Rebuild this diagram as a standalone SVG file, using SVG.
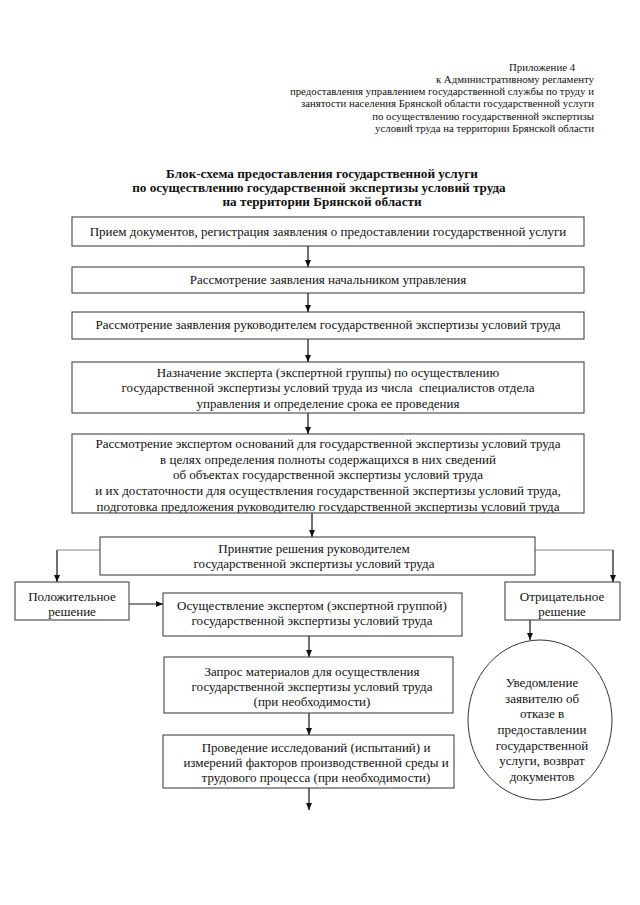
<svg xmlns="http://www.w3.org/2000/svg" width="640" height="905" viewBox="0 0 640 905">
<style>
text{font-family:"Liberation Serif","Times New Roman",serif;fill:#111}
.h{font-size:10.8px}
.t{font-size:13.2px;font-weight:bold;text-anchor:middle}
.b{font-size:13px;text-anchor:middle}
.box{fill:#fff;stroke:#333;stroke-width:1}
.c{stroke:#111;stroke-width:1.2;fill:none}
.g{stroke:#888;stroke-width:1.2;fill:none}
</style>
<defs>
<marker id="ar" markerWidth="8" markerHeight="8" refX="7" refY="4" orient="auto" markerUnits="userSpaceOnUse">
<path d="M0,1 L7,4 L0,7 Z" fill="#111"/>
</marker>
<clipPath id="cl5"><rect x="72" y="434" width="512" height="79"/></clipPath>
</defs>
<rect width="640" height="905" fill="#fff"/>
<g id="header">
<text class="h" x="509" y="71">Приложение 4</text>
<text class="h" x="594" y="83" text-anchor="end">к Административному регламенту</text>
<text class="h" x="594" y="95" text-anchor="end">предоставления управлением государственной службы по труду и</text>
<text class="h" x="594" y="107" text-anchor="end">занятости населения Брянской области государственной услуги</text>
<text class="h" x="594" y="120" text-anchor="end">по осуществлению государственной экспертизы</text>
<text class="h" x="594" y="132" text-anchor="end">условий труда на территории Брянской области</text>
</g>
<g id="title">
<text class="t" x="322" y="178">Блок-схема предоставления государственной услуги</text>
<text class="t" x="319" y="192">по осуществлению государственной экспертизы условий труда</text>
<text class="t" x="322" y="206">на территории Брянской области</text>
</g>
<g id="connectors">
<line class="c" x1="308" y1="246" x2="308" y2="267" marker-end="url(#ar)"/>
<line class="c" x1="308" y1="293" x2="308" y2="312" marker-end="url(#ar)"/>
<line class="c" x1="308" y1="339" x2="308" y2="362" marker-end="url(#ar)"/>
<line class="c" x1="308" y1="413" x2="308" y2="434" marker-end="url(#ar)"/>
<line class="c" x1="312" y1="513" x2="312" y2="537" marker-end="url(#ar)"/>
<polyline class="g" points="100,550 57,550"/>
<line class="c" x1="57" y1="550" x2="57" y2="582" marker-end="url(#ar)"/>
<polyline class="g" points="535,550 613,550"/>
<line class="c" x1="613" y1="550" x2="613" y2="582" marker-end="url(#ar)"/>
<line class="c" x1="129" y1="604" x2="163" y2="604" marker-end="url(#ar)"/>
<line class="c" x1="309" y1="636" x2="309" y2="657" marker-end="url(#ar)"/>
<line class="c" x1="309" y1="713" x2="309" y2="735" marker-end="url(#ar)"/>
<line class="c" x1="309" y1="788" x2="309" y2="810" marker-end="url(#ar)"/>
<line class="c" x1="530" y1="620" x2="530" y2="640" marker-end="url(#ar)"/>
</g>
<g id="n1">
<rect class="box" x="72" y="217" width="512" height="29"/>
<text class="b" x="328" y="236">Прием документов, регистрация заявления о предоставлении государственной услуги</text>
</g>
<g id="n2">
<rect class="box" x="72" y="267" width="512" height="26"/>
<text class="b" x="328" y="284">Рассмотрение заявления начальником управления</text>
</g>
<g id="n3">
<rect class="box" x="72" y="312" width="512" height="27"/>
<text class="b" x="328" y="329">Рассмотрение заявления руководителем государственной экспертизы условий труда</text>
</g>
<g id="n4">
<rect class="box" x="72" y="362" width="512" height="51"/>
<text class="b" x="328" y="377">Назначение эксперта (экспертной группы) по осуществлению</text>
<text class="b" x="328" y="392" xml:space="preserve">государственной экспертизы условий труда из числа  специалистов отдела</text>
<text class="b" x="328" y="408">управления и определение срока ее проведения</text>
</g>
<g id="n5">
<rect class="box" x="72" y="434" width="512" height="79"/>
<g clip-path="url(#cl5)">
<text class="b" x="328" y="448">Рассмотрение экспертом оснований для государственной экспертизы условий труда</text>
<text class="b" x="328" y="464">в целях определения полноты содержащихся в них сведений</text>
<text class="b" x="328" y="479">об объектах государственной экспертизы условий труда</text>
<text class="b" x="328" y="495">и их достаточности для осуществления государственной экспертизы условий труда,</text>
<text class="b" x="328" y="511">подготовка предложения руководителю государственной экспертизы условий труда</text>
</g>
</g>
<g id="n6">
<rect class="box" x="100" y="537" width="435" height="38"/>
<text class="b" x="314" y="553">Принятие решения руководителем</text>
<text class="b" x="314" y="568">государственной экспертизы условий труда</text>
</g>
<g id="n7">
<rect class="box" x="15" y="582" width="114" height="38"/>
<text class="b" x="72" y="601">Положительное</text>
<text class="b" x="72" y="616">решение</text>
</g>
<g id="n8">
<rect class="box" x="505" y="582" width="115" height="38"/>
<text class="b" x="562" y="601">Отрицательное</text>
<text class="b" x="562" y="616">решение</text>
</g>
<g id="n9">
<rect class="box" x="163" y="593" width="299" height="43"/>
<text class="b" x="312" y="610">Осуществление экспертом (экспертной группой)</text>
<text class="b" x="312" y="625">государственной экспертизы условий труда</text>
</g>
<g id="n10">
<rect class="box" x="164" y="657" width="289" height="56"/>
<text class="b" x="312" y="676">Запрос материалов для осуществления</text>
<text class="b" x="312" y="691">государственной экспертизы условий труда</text>
<text class="b" x="312" y="706">(при необходимости)</text>
</g>
<g id="n11">
<rect class="box" x="163" y="735" width="291" height="53"/>
<text class="b" x="316" y="752">Проведение исследований (испытаний) и</text>
<text class="b" x="316" y="767">измерений факторов производственной среды и</text>
<text class="b" x="316" y="782">трудового процесса (при необходимости)</text>
</g>
<g id="n12">
<ellipse class="box" cx="540" cy="720" rx="72" ry="80"/>
<text class="b" x="542" y="687">Уведомление</text>
<text class="b" x="542" y="703">заявителю об</text>
<text class="b" x="542" y="718">отказе в</text>
<text class="b" x="542" y="734">предоставлении</text>
<text class="b" x="542" y="750">государственной</text>
<text class="b" x="542" y="765">услуги, возврат</text>
<text class="b" x="542" y="781">документов</text>
</g>
</svg>
